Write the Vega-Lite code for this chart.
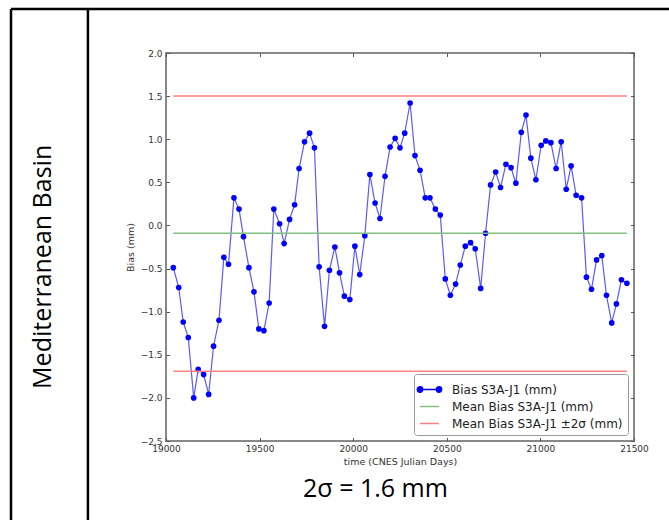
{
  "$schema": "https://vega.github.io/schema/vega-lite/v6.json",
  "autosize": "none",
  "width": 468,
  "height": 388,
  "padding": {"left": 166, "top": 53, "right": 35, "bottom": 79},
  "background": "white",
  "datasets": {
    "bias": [
      {"day": 19039, "bias": -0.49}, {"day": 19068, "bias": -0.72}, {"day": 19092, "bias": -1.12},
      {"day": 19119, "bias": -1.30}, {"day": 19148, "bias": -2.00}, {"day": 19172, "bias": -1.67},
      {"day": 19201, "bias": -1.73}, {"day": 19228, "bias": -1.96}, {"day": 19254, "bias": -1.40},
      {"day": 19283, "bias": -1.10}, {"day": 19309, "bias": -0.37}, {"day": 19334, "bias": -0.45},
      {"day": 19363, "bias": 0.32}, {"day": 19390, "bias": 0.19}, {"day": 19414, "bias": -0.13},
      {"day": 19443, "bias": -0.49}, {"day": 19470, "bias": -0.77}, {"day": 19496, "bias": -1.20},
      {"day": 19523, "bias": -1.22}, {"day": 19551, "bias": -0.90}, {"day": 19576, "bias": 0.19},
      {"day": 19607, "bias": 0.02}, {"day": 19631, "bias": -0.21}, {"day": 19660, "bias": 0.07},
      {"day": 19687, "bias": 0.24}, {"day": 19711, "bias": 0.66}, {"day": 19740, "bias": 0.97},
      {"day": 19767, "bias": 1.07}, {"day": 19793, "bias": 0.90}, {"day": 19818, "bias": -0.48},
      {"day": 19847, "bias": -1.17}, {"day": 19873, "bias": -0.52}, {"day": 19902, "bias": -0.25},
      {"day": 19927, "bias": -0.55}, {"day": 19953, "bias": -0.82}, {"day": 19982, "bias": -0.86},
      {"day": 20009, "bias": -0.24}, {"day": 20035, "bias": -0.57}, {"day": 20062, "bias": -0.12},
      {"day": 20089, "bias": 0.59}, {"day": 20117, "bias": 0.26}, {"day": 20143, "bias": 0.08},
      {"day": 20170, "bias": 0.57}, {"day": 20197, "bias": 0.91}, {"day": 20224, "bias": 1.01},
      {"day": 20250, "bias": 0.90}, {"day": 20275, "bias": 1.07}, {"day": 20304, "bias": 1.42},
      {"day": 20330, "bias": 0.81}, {"day": 20357, "bias": 0.64}, {"day": 20385, "bias": 0.32},
      {"day": 20410, "bias": 0.32}, {"day": 20439, "bias": 0.19}, {"day": 20465, "bias": 0.12},
      {"day": 20492, "bias": -0.62}, {"day": 20519, "bias": -0.81}, {"day": 20547, "bias": -0.68},
      {"day": 20572, "bias": -0.46}, {"day": 20599, "bias": -0.24}, {"day": 20627, "bias": -0.20},
      {"day": 20652, "bias": -0.27}, {"day": 20681, "bias": -0.73}, {"day": 20707, "bias": -0.09},
      {"day": 20734, "bias": 0.47}, {"day": 20761, "bias": 0.62}, {"day": 20787, "bias": 0.44},
      {"day": 20816, "bias": 0.71}, {"day": 20843, "bias": 0.67}, {"day": 20869, "bias": 0.49},
      {"day": 20898, "bias": 1.08}, {"day": 20923, "bias": 1.28}, {"day": 20949, "bias": 0.78},
      {"day": 20976, "bias": 0.53}, {"day": 21004, "bias": 0.93}, {"day": 21029, "bias": 0.98},
      {"day": 21056, "bias": 0.96}, {"day": 21084, "bias": 0.66}, {"day": 21111, "bias": 0.97},
      {"day": 21138, "bias": 0.42}, {"day": 21164, "bias": 0.69}, {"day": 21191, "bias": 0.35},
      {"day": 21220, "bias": 0.32}, {"day": 21246, "bias": -0.60}, {"day": 21273, "bias": -0.74},
      {"day": 21300, "bias": -0.40}, {"day": 21328, "bias": -0.35}, {"day": 21353, "bias": -0.81},
      {"day": 21381, "bias": -1.13}, {"day": 21406, "bias": -0.91}, {"day": 21433, "bias": -0.63},
      {"day": 21462, "bias": -0.67}
    ],
    "levels": [
      {"series": "Mean Bias S3A-J1 (mm)", "start": 19039, "end": 21462, "level": -0.09},
      {"series": "Mean Bias S3A-J1 ±2σ (mm)", "start": 19039, "end": 21462, "level": 1.50},
      {"series": "Mean Bias S3A-J1 ±2σ (mm)", "start": 19039, "end": 21462, "level": -1.69}
    ],
    "table": [
      {"x": 18172, "x2": 18172, "y": 2.51, "y2": -3.6},
      {"x": 18583, "x2": 18583, "y": 2.51, "y2": -3.6},
      {"x": 18172, "x2": 21800, "y": 2.51, "y2": 2.51}
    ],
    "rowlabel": [{"text": "Mediterranean Basin", "x": 18388, "y": -0.48}],
    "caption": [{"text": "2σ = 1.6 mm", "x": 20119, "y": -3.15}]
  },
  "layer": [
    {
      "data": {"name": "bias"},
      "mark": {"type": "line", "stroke": "#0000ff", "strokeWidth": 1.2, "strokeOpacity": 0.65},
      "encoding": {
        "x": {"field": "day", "type": "quantitative", "scale": {"domain": [19000, 21500], "nice": false, "zero": false},
          "axis": {"orient": "bottom", "values": [19000, 19500, 20000, 20500, 21000, 21500], "format": "d", "title": "time (CNES Julian Days)", "tickSize": -3.5, "labelPadding": 6.5, "titlePadding": 3}},
        "y": {"field": "bias", "type": "quantitative", "scale": {"domain": [-2.5, 2.0], "nice": false, "zero": false},
          "axis": {"orient": "left", "values": [-2.5, -2.0, -1.5, -1.0, -0.5, 0.0, 0.5, 1.0, 1.5, 2.0], "format": ".1f", "title": "Bias (mm)", "tickSize": -3.5, "labelPadding": 7.5, "titlePadding": 5}},
        "color": {"datum": "Bias S3A-J1 (mm)", "type": "nominal",
          "scale": {"domain": ["Bias S3A-J1 (mm)", "Mean Bias S3A-J1 (mm)", "Mean Bias S3A-J1 ±2σ (mm)"], "range": ["#0000ff", "#80c080", "#ff8080"]}}
      }
    },
    {
      "data": {"name": "bias"},
      "mark": {"type": "circle", "size": 32, "opacity": 1},
      "encoding": {
        "x": {"field": "day", "type": "quantitative", "scale": {"domain": [19000, 21500], "nice": false, "zero": false}, "axis": null},
        "y": {"field": "bias", "type": "quantitative", "scale": {"domain": [-2.5, 2.0], "nice": false, "zero": false}, "axis": null},
        "color": {"datum": "Bias S3A-J1 (mm)", "type": "nominal",
          "scale": {"domain": ["Bias S3A-J1 (mm)", "Mean Bias S3A-J1 (mm)", "Mean Bias S3A-J1 ±2σ (mm)"], "range": ["#0000ff", "#80c080", "#ff8080"]}}
      }
    },
    {
      "data": {"name": "levels"},
      "mark": {"type": "rule", "strokeWidth": 1.5},
      "encoding": {
        "x": {"field": "start", "type": "quantitative", "scale": {"domain": [19000, 21500], "nice": false, "zero": false},
          "axis": {"orient": "top", "values": [19000, 19500, 20000, 20500, 21000, 21500], "labels": false, "title": null, "tickSize": -3.5}},
        "x2": {"field": "end"},
        "y": {"field": "level", "type": "quantitative", "scale": {"domain": [-2.5, 2.0], "nice": false, "zero": false},
          "axis": {"orient": "right", "values": [-2.5, -2.0, -1.5, -1.0, -0.5, 0.0, 0.5, 1.0, 1.5, 2.0], "labels": false, "title": null, "tickSize": -3.5}},
        "color": {"field": "series", "type": "nominal",
          "scale": {"domain": ["Bias S3A-J1 (mm)", "Mean Bias S3A-J1 (mm)", "Mean Bias S3A-J1 ±2σ (mm)"], "range": ["#0000ff", "#80c080", "#ff8080"]},
          "legend": {
            "title": null, "orient": "bottom-right", "offset": 6,
            "fillColor": "white", "strokeColor": "#999999", "cornerRadius": 3, "padding": 5,
            "labelFont": "DejaVu Sans", "labelFontSize": 12, "labelColor": "#222222", "labelLimit": 300,
            "labelOffset": 12, "symbolSize": 361, "rowPadding": 0, "symbolStrokeWidth": 1.5,
            "encode": {
              "symbols": {
                "update": {
                  "shape": {"signal": "datum.value === 'Bias S3A-J1 (mm)' ? 'M-1,0L1,0M-0.72,0A0.28,0.28 0 1,1 -1.28,0A0.28,0.28 0 1,1 -0.72,0M1.28,0A0.28,0.28 0 1,1 0.72,0A0.28,0.28 0 1,1 1.28,0' : 'stroke'"},
                  "fill": {"signal": "datum.value === 'Bias S3A-J1 (mm)' ? '#0000ff' : 'transparent'"},
                  "stroke": {"signal": "datum.value === 'Bias S3A-J1 (mm)' ? '#0000ff' : (datum.value === 'Mean Bias S3A-J1 (mm)' ? '#80c080' : '#ff8080')"},
                  "opacity": {"value": 1},
                  "strokeWidth": {"value": 1.5}
                }
              }
            }
          }}
      }
    },
    {
      "data": {"name": "table"},
      "mark": {"type": "rule", "stroke": "black", "strokeWidth": 2.5},
      "encoding": {
        "x": {"field": "x", "type": "quantitative", "scale": {"domain": [19000, 21500], "nice": false, "zero": false}, "axis": null},
        "x2": {"field": "x2"},
        "y": {"field": "y", "type": "quantitative", "scale": {"domain": [-2.5, 2.0], "nice": false, "zero": false}, "axis": null},
        "y2": {"field": "y2"}
      }
    },
    {
      "data": {"name": "rowlabel"},
      "mark": {"type": "text", "angle": 270, "align": "center", "baseline": "alphabetic", "font": "Open Sans", "fontSize": 25, "color": "black"},
      "encoding": {
        "x": {"field": "x", "type": "quantitative", "scale": {"domain": [19000, 21500], "nice": false, "zero": false}, "axis": null},
        "y": {"field": "y", "type": "quantitative", "scale": {"domain": [-2.5, 2.0], "nice": false, "zero": false}, "axis": null},
        "text": {"field": "text"}
      }
    },
    {
      "data": {"name": "caption"},
      "mark": {"type": "text", "align": "center", "baseline": "alphabetic", "font": "Open Sans", "fontSize": 25, "color": "black"},
      "encoding": {
        "x": {"field": "x", "type": "quantitative", "scale": {"domain": [19000, 21500], "nice": false, "zero": false}, "axis": null},
        "y": {"field": "y", "type": "quantitative", "scale": {"domain": [-2.5, 2.0], "nice": false, "zero": false}, "axis": null},
        "text": {"field": "text"}
      }
    }
  ],
  "resolve": {"axis": {"x": "independent", "y": "independent"}},
  "config": {
    "view": {"stroke": "#888888", "strokeWidth": 2},
    "axis": {
      "domain": false, "grid": false,
      "labelFont": "DejaVu Sans", "labelFontSize": 9, "labelColor": "#333333",
      "titleFont": "DejaVu Sans", "titleFontSize": 9.5, "titleFontWeight": "normal", "titleColor": "#333333",
      "tickColor": "#555555", "tickWidth": 1,
      "labelFlush": false, "labelOverlap": false
    }
  }
}
